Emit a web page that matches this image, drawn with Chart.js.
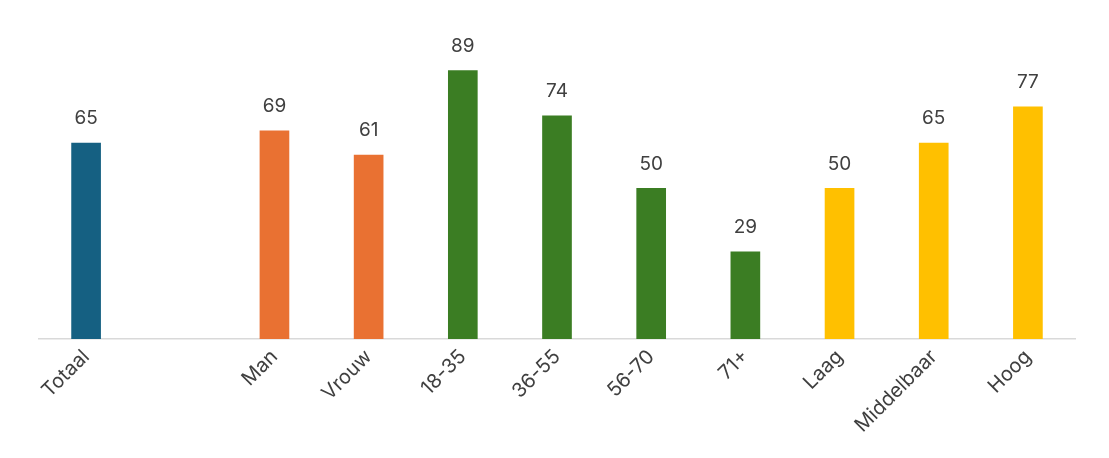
<!DOCTYPE html>
<html>
<head>
<meta charset="utf-8">
<script src="https://cdn.jsdelivr.net/npm/chart.js@4/dist/chart.umd.min.js"></script>
<style>
  html, body { margin: 0; padding: 0; background: #fff; }
  #wrap { width: 1109px; height: 458px; }
</style>
</head>
<body>
<div id="wrap"><canvas id="chart"></canvas></div>
<script>
// categorieën (lege plek tussen Totaal en Man)
const categories = ['Totaal', '', 'Man', 'Vrouw', '18-35', '36-55', '56-70', '71+', 'Laag', 'Middelbaar', 'Hoog'];
const values = [65, null, 69, 61, 89, 74, 50, 29, 50, 65, 77];
const barColors = ['#156082', '#156082', '#E97132', '#E97132', '#3B7D23', '#3B7D23', '#3B7D23', '#3B7D23', '#FFC000', '#FFC000', '#FFC000'];

// waarden boven de staven
const valueLabels = {
    id: 'valueLabels',
    afterDatasetsDraw(chart) {
        const ctx = chart.ctx;
        const meta = chart.getDatasetMeta(0);
        ctx.save();
        ctx.font = '19px Inter, "Noto Sans", sans-serif';
        ctx.fillStyle = '#404040';
        ctx.textAlign = 'center';
        ctx.textBaseline = 'middle';
        meta.data.forEach((bar, i) => {
            if (values[i] == null) return;
            ctx.fillText(values[i], bar.x, bar.y - 24);
        });
        ctx.restore();
    }
};

const ctx = document.getElementById('chart').getContext('2d');
new Chart(ctx, {
    type: 'bar',
    data: {
        labels: categories,
        datasets: [{
            data: values,
            backgroundColor: barColors,
            categoryPercentage: 1,
            barPercentage: 0.315
        }]
    },
    options: {
        responsive: true,
        maintainAspectRatio: false,
        animation: false,
        layout: { padding: { top: 37, left: 39, right: 34, bottom: 0 } },
        plugins: {
            legend: { display: false },
            tooltip: { enabled: false }
        },
        scales: {
            x: {
                grid: { display: false, drawTicks: false },
                border: { display: true, color: '#d9d9d9', width: 1.5 },
                ticks: {
                    color: '#404040',
                    font: { family: 'Inter, "Noto Sans", sans-serif', size: 20 },
                    maxRotation: 45,
                    minRotation: 45,
                    padding: 6,
                    autoSkip: false
                },
                afterFit(scale) {
                    scale.height = 119;
                    scale.paddingLeft = 0;
                    scale.paddingRight = 0;
                }
            },
            y: {
                display: false,
                min: 0,
                max: 100
            }
        }
    },
    plugins: [valueLabels]
});
</script>
</body>
</html>
